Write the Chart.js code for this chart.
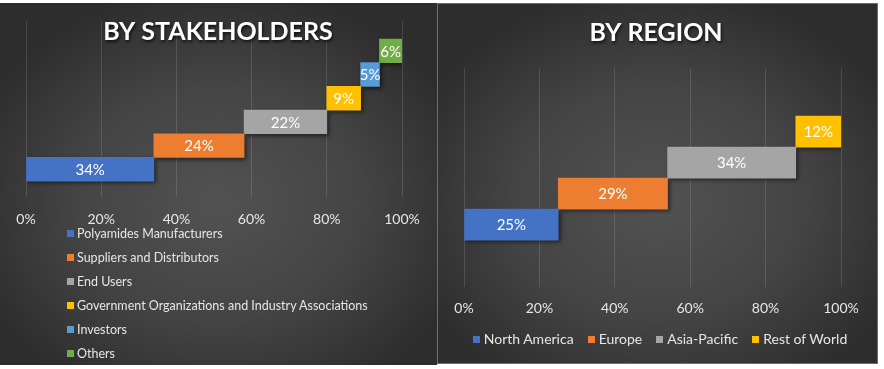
<!DOCTYPE html>
<html>
<head>
  <title>Stakeholders and Region</title>
  <script src="https://cdn.jsdelivr.net/npm/chart.js@4.4.1/dist/chart.umd.min.js"></script>
  <style>
    html, body {
      margin: 0;
      padding: 0;
      background: #ffffff;
      width: 884px;
      height: 369px;
      overflow: hidden;
      font-family: Lato, sans-serif;
    }

    .panel {
      position: absolute;
      top: 3px;
      height: 362px;
      box-sizing: border-box;
    }

    #left-panel {
      left: 0;
      width: 437px;
      background: radial-gradient(ellipse 60% 60% at 50% 55%, #525252 0%, #444444 55%, #2d2d2d 100%);
    }

    #right-panel {
      left: 437px;
      width: 441px;
      height: 361px;
      border: 1px solid #4472c4;
      background: radial-gradient(ellipse 60% 60% at 50% 55%, #525252 0%, #444444 55%, #2d2d2d 100%);
    }

    canvas {
      position: absolute;
    }

    .legend {
      position: absolute;
      color: #e6e6e6;
      white-space: nowrap;
    }

    .legend .sw {
      display: inline-block;
      width: 7px;
      height: 7px;
      margin-right: 4px;
      vertical-align: 1px;
    }

    #legend-left {
      left: 67px;
      top: 227px;
      font-size: 12.5px;
    }

    #legend-left .item {
      height: 24px;
      line-height: 14px;
    }

    #legend-left .sw {
      margin-right: 3px;
    }

    #legend-right {
      left: 442px;
      width: 436px;
      top: 331px;
      font-size: 14px;
      line-height: 16px;
      display: flex;
      justify-content: center;
      gap: 14px;
    }
  </style>
</head>
<body>
  <div class="panel" id="left-panel"></div>
  <div class="panel" id="right-panel"></div>
  <canvas id="stakeholders" width="437" height="362" style="left:0;top:3px;width:437px;height:362px"></canvas>
  <canvas id="region" width="439" height="360" style="left:438px;top:4px;width:439px;height:360px"></canvas>
  <div class="legend" id="legend-left"></div>
  <div class="legend" id="legend-right"></div>

  <script>
    // chart data
    var stakeholderLabels = ['Polyamides Manufacturers', 'Suppliers and Distributors', 'End Users',
      'Government Organizations and Industry Associations', 'Investors', 'Others'];
    var stakeholderValues = [34, 24, 22, 9, 5, 6];

    var regionLabels = ['North America', 'Europe', 'Asia-Pacific', 'Rest of World'];
    var regionValues = [25, 29, 34, 12];

    var percentTicks = [0, 20, 40, 60, 80, 100];

    var stakeholderColors = ['#4472c4', '#ed7d31', '#a5a5a5', '#ffc000', '#5b9bd5', '#70ad47'];
    var regionColors = ['#4472c4', '#ed7d31', '#a5a5a5', '#ffc000'];

    Chart.defaults.font.family = 'Lato, sans-serif';
    Chart.defaults.color = '#e6e6e6';

    // each segment is one floating bar that starts where the previous one ended
    function waterfallSets(labels, values, colors) {
      var start = 0;
      return labels.map(function (label, i) {
        var ds = {
          label: label,
          data: [{ x: [start, start + values[i]], y: i }],
          backgroundColor: colors[i],
          grouped: false,
          barPercentage: 1,
          categoryPercentage: 1
        };
        start += values[i];
        return ds;
      });
    }

    var barShadow = {
      id: 'barShadow',
      beforeDatasetsDraw: function (chart) {
        var ctx = chart.ctx;
        ctx.save();
        ctx.shadowColor = 'rgba(0,0,0,0.55)';
        ctx.shadowBlur = 4;
        ctx.shadowOffsetX = 2;
        ctx.shadowOffsetY = 2;
      },
      afterDatasetsDraw: function (chart) {
        chart.ctx.restore();
      }
    };

    var barLabels = {
      id: 'barLabels',
      afterDatasetsDraw: function (chart) {
        var ctx = chart.ctx;
        ctx.save();
        ctx.fillStyle = '#ffffff';
        ctx.font = '15px Lato, sans-serif';
        ctx.textAlign = 'center';
        ctx.textBaseline = 'middle';
        chart.data.datasets.forEach(function (ds, i) {
          var bar = chart.getDatasetMeta(i).data[0];
          var range = ds.data[0].x;
          ctx.fillText((range[1] - range[0]) + '%', (bar.x + bar.base) / 2, bar.y + 1);
        });
        ctx.restore();
      }
    };

    var overlayTitle = {
      id: 'overlayTitle',
      afterDraw: function (chart, args, opts) {
        var ctx = chart.ctx;
        ctx.save();
        ctx.font = 'bold 25px Lato, sans-serif';
        ctx.fillStyle = '#ffffff';
        ctx.textAlign = 'center';
        ctx.textBaseline = 'alphabetic';
        ctx.shadowColor = 'rgba(0,0,0,0.7)';
        ctx.shadowBlur = 3;
        ctx.shadowOffsetX = 1;
        ctx.shadowOffsetY = 2;
        ctx.fillText(opts.text, opts.x, opts.y);
        ctx.restore();
      }
    };

    function makeChart(id, labels, values, colors, cfg) {
      var ctx = document.getElementById(id).getContext('2d');
      return new Chart(ctx, {
        type: 'bar',
        data: { datasets: waterfallSets(labels, values, colors) },
        plugins: [barShadow, barLabels, overlayTitle],
        options: {
          responsive: false,
          animation: false,
          indexAxis: 'y',
          layout: { padding: cfg.padding },
          scales: {
            x: {
              type: 'linear',
              min: 0,
              max: 100,
              afterBuildTicks: function (scale) {
                scale.ticks = percentTicks.map(function (v) { return { value: v }; });
              },
              ticks: {
                padding: cfg.tickPad,
                color: '#e6e6e6',
                font: { size: 14 },
                callback: function (v) { return v + '%'; }
              },
              grid: { color: 'rgba(255,255,255,0.13)', drawTicks: false },
              border: { display: false }
            },
            y: {
              type: 'linear',
              display: false,
              min: cfg.yMin,
              max: cfg.yMax,
              afterBuildTicks: function (scale) { scale.ticks = []; }
            }
          },
          plugins: {
            legend: { display: false },
            tooltip: { enabled: false },
            overlayTitle: cfg.title
          }
        }
      });
    }

    makeChart('stakeholders', stakeholderLabels, stakeholderValues, stakeholderColors, {
      padding: { top: 18, left: 26, right: 35, bottom: 123 },
      tickPad: 14,
      yMin: -1.18,
      yMax: 6.26,
      title: { text: 'BY STAKEHOLDERS', x: 218, y: 37 }
    });

    makeChart('region', regionLabels, regionValues, regionColors, {
      padding: { top: 64, left: 26, right: 36, bottom: 34 },
      tickPad: 13,
      yMin: -2.02,
      yMax: 5.05,
      title: { text: 'BY REGION', x: 218, y: 37 }
    });

    // legends built from the same label and colour lists
    function buildLegend(id, labels, colors) {
      var box = document.getElementById(id);
      labels.forEach(function (label, i) {
        var item = document.createElement('div');
        item.className = 'item';
        var sw = document.createElement('span');
        sw.className = 'sw';
        sw.style.background = colors[i];
        item.appendChild(sw);
        item.appendChild(document.createTextNode(label));
        box.appendChild(item);
      });
    }
    buildLegend('legend-left', stakeholderLabels, stakeholderColors);
    buildLegend('legend-right', regionLabels, regionColors);
  </script>
</body>
</html>
